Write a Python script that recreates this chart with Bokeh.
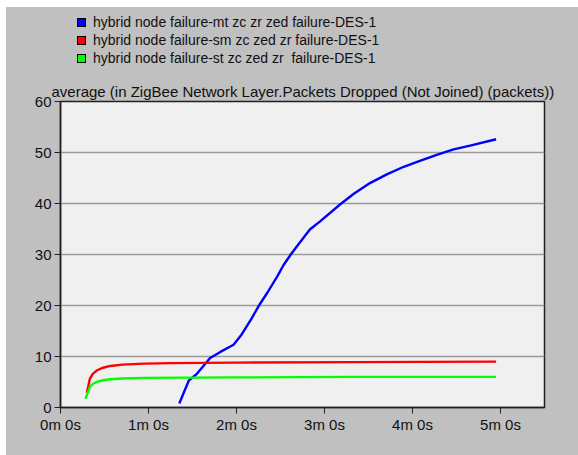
from bokeh.plotting import figure
from bokeh.layouts import column
from bokeh.models import Range1d, FixedTicker, Div
from bokeh.embed import file_html
from bokeh.resources import INLINE

# Simulation time (seconds) and averaged dropped packets per scenario
mt_time = [81, 87.5, 93, 102, 109, 118, 123, 129.5, 136, 141, 148, 152, 157, 161.5,
           170, 177, 191, 200, 211, 222.5, 234, 245.5, 257, 268, 280, 297]
mt_drop = [0.8, 5.3, 6.6, 9.7, 10.9, 12.3, 14.1, 17.1, 20.3, 22.5, 25.8, 27.9, 30.0, 31.7,
           34.9, 36.5, 39.9, 41.9, 44.0, 45.7, 47.2, 48.4, 49.6, 50.6, 51.4, 52.6]

sm_time = [18, 20, 22, 25, 29, 34, 42, 57, 75, 120, 200, 297]
sm_drop = [2.9, 5.6, 6.6, 7.3, 7.8, 8.15, 8.4, 8.6, 8.7, 8.8, 8.9, 9.0]

st_time = [17, 20, 22, 25, 29, 34, 42, 57, 120, 200, 297]
st_drop = [1.7, 4.0, 4.6, 5.05, 5.35, 5.55, 5.7, 5.8, 5.9, 6.0, 6.0]

series_names = [
    "hybrid node failure-mt zc zr zed failure-DES-1",
    "hybrid node failure-sm zc zed zr failure-DES-1",
    "hybrid node failure-st zc zed zr  failure-DES-1",
]
series_colors = ["#0000ff", "#ff0000", "#00ff00"]

x_ticks = [0, 60, 120, 180, 240, 300]
x_tick_labels = ["0m 0s", "1m 0s", "2m 0s", "3m 0s", "4m 0s", "5m 0s"]
y_ticks = [0, 10, 20, 30, 40, 50, 60]

FONT = "Liberation Sans"
FSIZE = "15px"
PANEL = "#c0c0c0"
INK = "#101010"

# --- legend strip above the chart (HTML key: swatch + series name) ---
rows = []
for i, (name, c) in enumerate(zip(series_names, series_colors)):
    top = 6 + 18 * i
    rows.append(
        f'<div style="position:absolute;left:71px;top:{top + 5}px;width:9px;height:9px;'
        f'box-sizing:border-box;background:{c};border:1px solid #000;"></div>'
        f'<div style="position:absolute;left:87px;top:{top}px;height:18px;line-height:18px;'
        f'white-space:pre;font-family:\'{FONT}\';font-size:14px;color:{INK};">{name}</div>'
    )
legend_html = (f'<div style="position:absolute;left:0;top:0;width:572px;height:70px;'
               f'margin:0;padding:0;background:{PANEL};">' + "".join(rows) + "</div>")
leg = Div(text=legend_html, width=572, height=70, margin=0,
          styles={"background-color": PANEL, "padding": "0", "margin": "0"})

# --- main chart ---
p = figure(width=572, height=378, output_backend="svg", toolbar_location=None,
           x_range=Range1d(0, 330), y_range=Range1d(0, 60),
           min_border_left=54, min_border_right=34, min_border_top=24,
           min_border_bottom=48, margin=0)

p.background_fill_color = "#f0f0f0"
p.border_fill_color = PANEL
p.outline_line_color = "#202020"
p.outline_line_width = 1.5

p.title.text = "average (in ZigBee Network Layer.Packets Dropped (Not Joined) (packets))"
p.title.align = "left"
p.title.offset = -9
p.title.standoff = 3
p.title.text_font = FONT
p.title.text_font_size = FSIZE
p.title.text_font_style = "normal"
p.title.text_color = INK

# axes
p.xaxis.ticker = FixedTicker(ticks=x_ticks)
p.xaxis.major_label_overrides = {t: lab for t, lab in zip(x_ticks, x_tick_labels)}
p.yaxis.ticker = FixedTicker(ticks=y_ticks)
for ax in (p.xaxis, p.yaxis):
    ax.axis_line_color = "#202020"
    ax.axis_line_width = 1.5
    ax.major_tick_line_color = "#202020"
    ax.major_tick_in = 0
    ax.major_tick_out = 6
    ax.minor_tick_line_color = None
    ax.major_label_text_font = FONT
    ax.major_label_text_font_size = FSIZE
    ax.major_label_text_color = INK
p.xaxis.major_label_standoff = 2
p.yaxis.major_label_standoff = 3

p.xgrid.grid_line_color = None
p.ygrid.grid_line_color = "#9a9a9a"
p.ygrid.grid_line_width = 1.5

# series
for t, v, c in [(mt_time, mt_drop, series_colors[0]),
                (sm_time, sm_drop, series_colors[1]),
                (st_time, st_drop, series_colors[2])]:
    p.line(t, v, line_color=c, line_width=2.4)

layout = column(leg, p, spacing=0, margin=(7, 0, 0, 6),
                styles={"background-color": PANEL})
open("out.html", "w").write(file_html(layout, INLINE))
